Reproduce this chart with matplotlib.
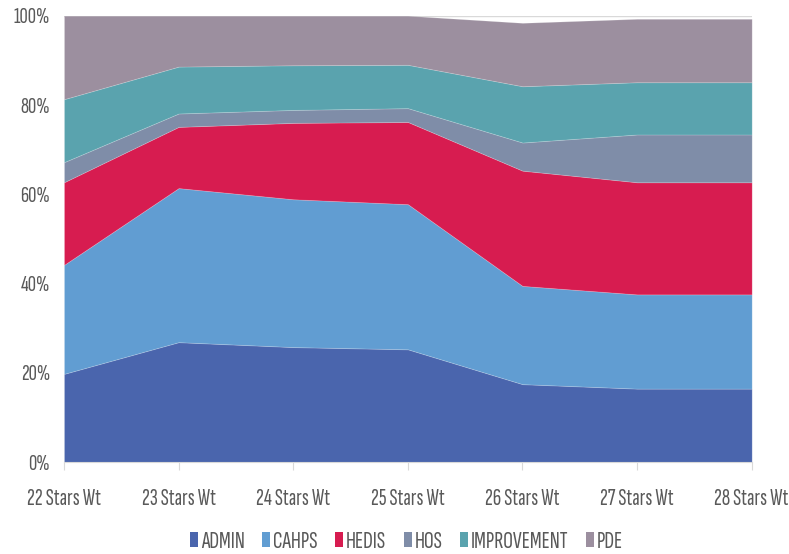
import matplotlib
matplotlib.use("Agg")
import matplotlib.pyplot as plt
from matplotlib.patches import Patch
from matplotlib.ticker import FuncFormatter
import numpy as np

categories = ["22 Stars Wt", "23 Stars Wt", "24 Stars Wt", "25 Stars Wt",
              "26 Stars Wt", "27 Stars Wt", "28 Stars Wt"]
admin       = [19.8, 26.9, 25.8, 25.3, 17.5, 16.5, 16.5]
cahps       = [24.4, 34.5, 33.1, 32.5, 22.0, 21.1, 21.1]
hedis       = [18.5, 13.7, 17.1, 18.4, 25.8, 25.1, 25.1]
hos         = [4.5, 3.0, 2.9, 3.1, 6.3, 10.7, 10.7]
improvement = [14.1, 10.5, 10.0, 9.7, 12.6, 11.7, 11.7]
pde         = [18.7, 11.4, 11.1, 11.0, 14.2, 14.2, 14.2]

series_names = ["ADMIN", "CAHPS", "HEDIS", "HOS", "IMPROVEMENT", "PDE"]
colors = ["#4A65AD", "#619DD2", "#D71C50", "#7F8DA8", "#5AA3AE", "#9C8F9F"]

plt.rcParams['font.family'] = ['Sofia Sans Extra Condensed', 'DejaVu Sans']

fig = plt.figure(figsize=(7.89, 5.54), dpi=100)
ax = fig.add_axes([0.0811, 0.1655, 0.8716, 0.8062])

x = np.arange(len(categories))
ax.stackplot(x, admin, cahps, hedis, hos, improvement, pde,
             colors=colors, linewidth=0.6, edgecolor="#FFFFFF30")

ax.set_xlim(0, len(categories) - 1)
ax.set_ylim(0, 100)
ax.set_yticks([0, 20, 40, 60, 80, 100])
ax.yaxis.set_major_formatter(FuncFormatter(lambda v, p: f"{int(v)}%"))
ax.set_xticks(x)
ax.set_xticklabels(categories)

ax.axhline(100, color="#D9D9D9", lw=1, zorder=0)
for s in ["top", "right", "left"]:
    ax.spines[s].set_visible(False)
ax.spines["bottom"].set_color("#D9D9D9")
ax.tick_params(axis="y", length=0, pad=10, labelsize=16.5, labelcolor="#595959")
ax.tick_params(axis="x", length=6, color="#D9D9D9", pad=12.5, labelsize=17, labelcolor="#595959")

handles = [Patch(facecolor=c, edgecolor="none") for c in colors]
fig.legend(handles, series_names, loc="center", bbox_to_anchor=(0.515, 0.022),
           ncol=6, frameon=False, fontsize=17.5, handlelength=0.33, handleheight=0.55,
           handletextpad=0.12, columnspacing=0.72, labelcolor="#595959",
           borderpad=0, borderaxespad=0)

fig.savefig("out.png", dpi=100)
